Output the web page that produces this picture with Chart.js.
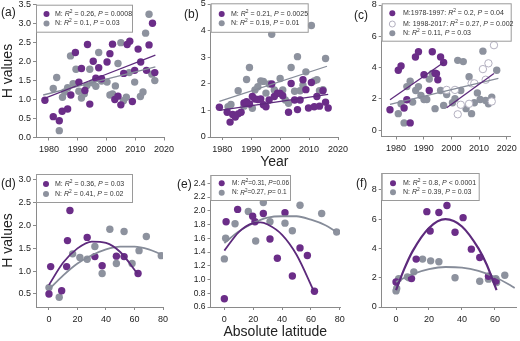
<!DOCTYPE html>
<html lang="en">
<head>
  <meta charset="UTF-8" />
  <title>H values by year and latitude</title>
  <script src="https://cdn.jsdelivr.net/npm/chart.js"></script>
  <style>
    body { margin: 0; background: #fff; }
    #wrap { position: relative; width: 520px; height: 341px; }
    #wrap canvas { position: absolute; left: 0; top: 0; }
  </style>
</head>
<body>
<div id="wrap">
  <canvas id="pa" width="520" height="341"></canvas>
  <canvas id="pb" width="520" height="341"></canvas>
  <canvas id="pc" width="520" height="341"></canvas>
  <canvas id="pd" width="520" height="341"></canvas>
  <canvas id="pe" width="520" height="341"></canvas>
  <canvas id="pf" width="520" height="341"></canvas>
</div>

<script>
  // ---- data ----
  const yearTicks = [1980, 1990, 2000, 2010, 2020];
  const latTicks = [0, 20, 40, 60, 80];
  const latTicksF = [0, 20, 40, 60];

  // (a)
  const aYearM = [1978.6, 1981.5, 1983.6, 1984.6, 1986.5, 1987.6, 1989.2, 1990.4, 1991.3, 1992.5, 1993.4, 1994.2, 1995.4, 1996.3, 1997.3, 1998.3, 2000.2, 2001.2, 2002.1, 2002.9, 2004.0, 2005.0, 2006.0, 2007.2, 2008.1, 2009.0, 2009.8, 2011.0, 2011.9, 2013.9, 2014.8, 2016.0, 2016.8];
  const aValM = [0.98, 0.55, 0.44, 0.69, 0.75, 1.12, 2.24, 1.46, 1.82, 1.24, 2.45, 0.88, 2.01, 1.56, 1.84, 1.55, 1.99, 2.21, 2.46, 1.0, 1.09, 0.86, 1.69, 2.45, 2.54, 0.95, 1.77, 2.33, 1.99, 1.77, 2.44, 3.01, 1.71];
  const aYearN = [1981.5, 1982.7, 1983.6, 1984.7, 1985.5, 1986.5, 1987.5, 1988.4, 1989.4, 1990.4, 1991.3, 1992.3, 1993.2, 1994.2, 1995.1, 1996.3, 1997.3, 1998.3, 2000.2, 2001.2, 2002.1, 2003.1, 2004.0, 2005.0, 2005.9, 2006.9, 2007.9, 2009.8, 2011.8, 2012.7, 2013.6, 2014.8, 2015.8, 2016.8];
  const aValN = [1.29, 1.58, 0.18, 1.06, 1.2, 1.31, 2.15, 1.42, 1.8, 1.22, 1.04, 1.15, 1.37, 1.8, 1.44, 1.35, 2.24, 1.49, 1.46, 1.12, 1.15, 1.36, 1.95, 2.5, 0.97, 1.06, 1.71, 1.46, 1.08, 1.2, 2.75, 3.25, 1.67, 1.5];
  const aFitX = [1978, 2017];
  const aFitM = [1.02, 2.17];
  const aFitN = [1.12, 1.86];

  // (b)
  const bYearM = [1979, 1981.7, 1982.7, 1983.6, 1984.5, 1985.5, 1986.5, 1987.5, 1988.4, 1989.4, 1990.4, 1991.3, 1992.3, 1993.3, 1994.2, 1995.1, 1996.2, 1997.1, 1998, 1999.1, 2000, 2000.9, 2002.9, 2003.8, 2005, 2006, 2006.9, 2007.9, 2008.9, 2009.8, 2010.8, 2011.8, 2012.7, 2013.6, 2014.8, 2015.7, 2016.6];
  const bValM = [1.12, 0.93, 0.56, 0.85, 0.75, 0.87, 0.93, 1.28, 1.33, 1.24, 1.52, 1.43, 1.41, 1.43, 1.21, 1.14, 1.39, 1.99, 1.52, 1.65, 1.64, 1.55, 0.93, 2.01, 1.39, 1.03, 1.39, 2.15, 1.78, 1.09, 2.05, 1.14, 1.52, 1.16, 1.74, 1.31, 1.09];
  const bYearN = [1982, 1983, 1985.5, 1987.5, 1988.4, 1989.4, 1990.4, 1991.3, 1992.3, 1993.3, 1994.2, 1995.1, 1996.2, 1997.1, 1998, 2000, 2000.9, 2001.8, 2002.9, 2003.8, 2005, 2006, 2006.9, 2007.9, 2008.9, 2010.8, 2011.8, 2012.7, 2013.6, 2014.8, 2015.7];
  const bValN = [1.14, 1.22, 1.74, 1.16, 2.16, 2.61, 1.08, 1.77, 1.89, 2.11, 2.09, 1.65, 1.99, 3.86, 1.77, 2.2, 1.77, 1.39, 1.27, 2.61, 1.72, 3.02, 1.74, 1.95, 2.45, 4.19, 2.11, 2.15, 1.74, 1.78, 2.95];
  const bFitMX = [1979, 2016.6];
  const bFitM = [1.0, 1.6];
  const bFitNX = [1979, 2016.2];
  const bFitN = [1.34, 2.66];

  // (c)
  const cYearM1 = [1977.8, 1980.8, 1981.8, 1982.9, 1983.9, 1985.1, 1987, 1988.1, 1990.1, 1992, 1993.1, 1994.1, 1994.6, 1995.1, 1996.1, 1997.2];
  const cValM1 = [1.3, 3.83, 4.1, 1.41, 1.94, 0.46, 4.67, 5.01, 3.54, 2.53, 5.01, 3.64, 3.6, 3.22, 4.67, 4.32];
  const cYearM2 = [1998.3, 2001.3, 2002.3, 2003.4, 2006.4, 2007.3, 2008.3, 2011.4, 2012.4, 2013.4, 2014.6, 2015.4];
  const cValM2 = [2.57, 2.57, 1.01, 1.62, 1.68, 2.99, 2.99, 3.9, 3.22, 4.27, 1.83, 5.43];
  const cYearN = [1980.8, 1981.8, 1982.9, 1983.9, 1985.1, 1986, 1987.1, 1988.1, 1989, 1990.1, 1991.1, 1992, 1993.1, 1994.1, 1996.1, 1997.2, 1998.3, 2000.4, 2001.3, 2002.3, 2003.4, 2004.3, 2005.3, 2006.4, 2007.3, 2008.3, 2009.4, 2010.4, 2011.4, 2012.4, 2013.4, 2014.6, 2016.4];
  const cValN = [1.05, 1.68, 0.46, 2.78, 3.12, 1.79, 2.53, 2.78, 2.21, 1.96, 1.96, 3.26, 3.62, 1.37, 2.53, 1.58, 2.27, 1.75, 2.0, 4.46, 2.53, 4.38, 1.37, 3.41, 1.05, 1.75, 2.38, 1.96, 5.05, 1.89, 1.68, 2.11, 3.83];
  const cFitM1X = [1977.8, 1997.2];
  const cFitM1 = [1.94, 4.32];
  const cFitM2X = [1998.3, 2015.4];
  const cFitM2 = [1.43, 3.62];
  const cFitNX = [1977.8, 2017];
  const cFitN = [1.64, 3.3];

  // (d)
  const dLatM = [0, 1.2, 8.9, 12.4, 13, 14.7, 26.8, 32.2, 37.3, 47.3, 52.7, 62.5];
  const dValM = [0.5, 1.1, 0.57, 1.1, 1.67, 2.33, 1.74, 1.32, 1.12, 1.33, 1.32, 0.95];
  const dLatN = [0, 7.2, 16.6, 21.7, 26.8, 32.2, 37.3, 42.7, 47.3, 52.7, 58.3, 63.2, 68.3, 78.8];
  const dValN = [0.64, 0.43, 1.38, 1.3, 1.26, 1.54, 0.95, 1.92, 1.17, 1.87, 1.17, 1.45, 1.76, 1.34];
  const dFitMX = [0, 10, 20, 30, 40, 50, 62];
  const dFitM = [0.7, 1.19, 1.5, 1.65, 1.62, 1.42, 0.95];
  const dFitNX = [0, 10, 20, 30, 40, 50, 60, 70, 78];
  const dFitN = [0.6, 0.91, 1.17, 1.35, 1.48, 1.54, 1.54, 1.48, 1.38];

  // (e)
  const eLatM = [0, 1.2, 9.2, 19.6, 21.2, 27, 31.6, 36.7, 42, 47.1, 52.4, 57.5, 62.4];
  const eValM = [0.72, 1.84, 2.02, 1.92, 1.84, 1.96, 1.59, 1.31, 1.97, 1.05, 1.46, 1.35, 0.83];
  const eLatN = [0, 0.9, 7.4, 16.6, 21.7, 27, 31.6, 42, 47.1, 52.4, 67.4, 77.8];
  const eValN = [1.3, 1.6, 1.81, 1.99, 1.56, 2.12, 1.84, 1.82, 1.71, 2.08, 1.96, 1.69];
  const eFitMX = [0, 10, 20, 25, 30, 40, 50, 62];
  const eFitM = [1.42, 1.69, 1.82, 1.83, 1.8, 1.65, 1.36, 0.83];
  const eFitNX = [0, 10, 20, 30, 40, 50, 60, 70, 77];
  const eFitN = [1.53, 1.7, 1.82, 1.9, 1.92, 1.92, 1.87, 1.79, 1.7];

  // (f)
  const fLatM = [0, 9.4, 12.2, 18.7, 20.7, 26, 30.9, 35.8, 40.7, 45.7, 50.8, 56.1, 60.6];
  const fValM = [1.71, 1.94, 3.27, 6.51, 5.19, 6.45, 6.93, 5.1, 6.1, 3.95, 3.38, 2.1, 1.78];
  const fLatN = [0, 0.4, 1.6, 6.9, 7.9, 10.8, 16.1, 21, 26, 35.8, 50.8, 56.1, 60.6, 61, 66];
  const fValN = [1.1, 1.26, 1.94, 2.06, 2.0, 2.4, 3.27, 3.15, 3.09, 2.0, 1.76, 1.9, 1.94, 1.67, 2.17];
  const fFitMX = [0, 5, 10, 20, 30, 40, 50, 55, 61];
  const fFitM = [1.15, 2.6, 3.8, 5.4, 6.0, 5.5, 4.0, 2.9, 1.15];
  const fFitNX = [0, 10, 20, 30, 40, 50, 60, 70, 72];
  const fFitN = [1.71, 2.24, 2.58, 2.73, 2.69, 2.47, 2.05, 1.44, 1.3];

  // legend texts (* = italic, ^ = superscript)
  const aLegend = ['M: *R*^2^ = 0.26, *P* = 0.0008', 'N: *R*^2^ = 0.1, *P* = 0.03'];
  const bLegend = ['M: *R*^2^ = 0.21, *P* = 0.0025', 'N: *R*^2^ = 0.19, *P* = 0.01'];
  const cLegend = ['M:1978-1997: *R*^2^ = 0.2, *P* = 0.04', 'M: 1998-2017: *R*^2^ = 0.27, *P* = 0.002', 'N: *R*^2^ = 0.11, *P* = 0.03'];
  const dLegend = ['M: *R*^2^ = 0.36, *P* = 0.03', 'N: *R*^2^ = 0.41, *P* = 0.02'];
  const eLegend = ['M: *R*^2^=0.31, *P*=0.06', 'N: *R*^2^=0.27, *P*= 0.1'];
  const fLegend = ['M: *R*^2^ = 0.8, *P* < 0.0001', 'N: *R*^2^ = 0.39, *P* = 0.03'];

  // ---- drawing ----
  const FONT = '"Liberation Sans", Arial, sans-serif';
  const PURPLE = '#6b2d88';
  const GREY = '#8d929e';
  const PURPLE_LINE = '#5d2a7c';
  const GREY_LINE = '#868c99';
  const OPEN_EDGE = '#b3b0c0';
  const AXIS = '#8a8a8a';

  const pts = (xs, ys) => xs.map((x, i) => ({ x, y: ys[i] }));

  function dots(xs, ys, color, open) {
    return {
      data: pts(xs, ys),
      showLine: false,
      pointRadius: 3.7,
      backgroundColor: open ? '#fff' : color,
      borderColor: open ? OPEN_EDGE : color,
      borderWidth: open ? 1 : 0
    };
  }

  function curve(xs, ys, color, w) {
    return {
      data: pts(xs, ys),
      showLine: true,
      pointRadius: 0,
      borderColor: color,
      borderWidth: w,
      cubicInterpolationMode: 'monotone'
    };
  }

  function axis(horiz, min, max, ticks, digits, fontSize, size, title) {
    return {
      type: 'linear',
      min, max,
      border: { color: AXIS, width: 1 },
      grid: { display: true, drawOnChartArea: false, drawTicks: true, tickLength: 3, color: AXIS },
      ticks: {
        color: '#222',
        font: { family: FONT, size: fontSize },
        padding: horiz ? 4 : 2,
        autoSkip: false,
        maxRotation: 0,
        callback: v => v.toFixed(digits)
      },
      afterBuildTicks: s => { s.ticks = ticks.map(v => ({ value: v })); },
      title: title
        ? { display: true, text: title, color: '#222', font: { family: FONT, size: 14 }, padding: 0 }
        : { display: false },
      afterFit: s => {
        if (horiz) s.height = size; else s.width = size;
        s.paddingLeft = s.paddingRight = s.paddingTop = s.paddingBottom = 0;
      }
    };
  }

  function richText(ctx, str, x, y, size) {
    let italic = false, sup = false;
    for (const p of str.split(/([*^])/)) {
      if (p === '*') { italic = !italic; continue; }
      if (p === '^') { sup = !sup; continue; }
      if (!p) continue;
      const fs = sup ? size * 0.7 : size;
      ctx.font = (italic ? 'italic ' : '') + fs + 'px ' + FONT;
      ctx.fillText(p, x, sup ? y - size * 0.35 : y);
      x += ctx.measureText(p).width;
    }
  }

  function decor(ctx, p) {
    ctx.save();
    ctx.fillStyle = '#222';
    ctx.textBaseline = 'middle';
    ctx.font = '12px ' + FONT;
    ctx.fillText(p.tag, p.tagAt[0], p.tagAt[1]);

    const [bx, by, bw, bh] = p.legBox;
    ctx.fillStyle = '#fff';
    ctx.fillRect(bx, by, bw, bh);
    ctx.strokeStyle = '#9a9a9a';
    ctx.lineWidth = 1;
    ctx.strokeRect(bx + 0.5, by + 0.5, bw, bh);

    p.legend.forEach((txt, i) => {
      const y = p.legRows[i];
      const kind = p.legKinds[i];
      ctx.beginPath();
      ctx.arc(p.legMarkX, y, 3, 0, Math.PI * 2);
      if (kind === 'O') {
        ctx.fillStyle = '#fff';
        ctx.fill();
        ctx.strokeStyle = OPEN_EDGE;
        ctx.stroke();
      } else {
        ctx.fillStyle = kind === 'M' ? PURPLE : GREY;
        ctx.fill();
      }
      ctx.fillStyle = '#333';
      richText(ctx, txt, p.legTextX, y, p.legSize);
    });
    ctx.restore();
  }

  function panel(id, p) {
    const [l, t, r, b] = p.area;
    new Chart(document.getElementById(id), {
      type: 'scatter',
      data: { datasets: p.datasets },
      options: {
        responsive: false,
        animation: false,
        events: [],
        layout: { padding: { left: l - p.yW, top: t, right: 520 - r, bottom: Math.max(0, 341 - b - 34) } },
        plugins: { legend: { display: false }, tooltip: { enabled: false } },
        scales: {
          x: axis(true, p.x[0], p.x[1], p.xTicks, 0, 9, 34, p.xTitle),
          y: axis(false, p.y[0], p.y[1], p.yTicks, p.yDigits, p.yFont || 9, p.yW, p.yTitle)
        }
      },
      plugins: [{ id: 'decor', afterDraw: chart => decor(chart.ctx, p) }]
    });
  }

  panel('pa', {
    area: [36, 4.7, 164, 137.5], yW: 36,
    x: [1975.5, 2020], xTicks: yearTicks,
    y: [0, 3.5], yTicks: [0, 0.5, 1, 1.5, 2, 2.5, 3, 3.5], yDigits: 1, yTitle: 'H values',
    tag: '(a)', tagAt: [1, 12.5],
    legBox: [36, 4.7, 96, 27], legRows: [14, 23.5], legMarkX: 46.5, legTextX: 55, legSize: 7,
    legend: aLegend, legKinds: ['M', 'N'],
    datasets: [
      curve(aFitX, aFitM, PURPLE_LINE, 1.3),
      curve(aFitX, aFitN, GREY_LINE, 1.3),
      dots(aYearM, aValM, PURPLE),
      dots(aYearN, aValN, GREY)
    ]
  });

  panel('pb', {
    area: [210.7, 3.3, 338, 137], yW: 36,
    x: [1976, 2020], xTicks: yearTicks, xTitle: 'Year',
    y: [0, 5], yTicks: [0, 1, 2, 3, 4, 5], yDigits: 0,
    tag: '(b)', tagAt: [184, 15],
    legBox: [210.7, 3.3, 97, 28.5], legRows: [14, 23.3], legMarkX: 221.7, legTextX: 231, legSize: 7,
    legend: bLegend, legKinds: ['M', 'N'],
    datasets: [
      curve(bFitMX, bFitM, PURPLE_LINE, 1.3),
      curve(bFitNX, bFitN, GREY_LINE, 1.3),
      dots(bYearM, bValM, PURPLE),
      dots(bYearN, bValN, GREY)
    ]
  });

  panel('pc', {
    area: [381.7, 3.3, 510, 136.5], yW: 36,
    x: [1974.8, 2021.2], xTicks: yearTicks,
    y: [-0.41, 8], yTicks: [0, 2, 4, 6, 8], yDigits: 0,
    tag: '(c)', tagAt: [354, 16],
    legBox: [381.7, 3.3, 129, 37.4], legRows: [13.3, 24, 33.3], legMarkX: 392.3, legTextX: 403, legSize: 7,
    legend: cLegend, legKinds: ['M', 'O', 'N'],
    datasets: [
      curve(cFitM1X, cFitM1, PURPLE_LINE, 1.3),
      curve(cFitM2X, cFitM2, PURPLE_LINE, 1.3),
      curve(cFitNX, cFitN, GREY_LINE, 1.3),
      dots(cYearM1, cValM1, PURPLE),
      dots(cYearM2, cValM2, PURPLE, true),
      dots(cYearN, cValN, GREY)
    ]
  });

  panel('pd', {
    area: [36, 174, 163, 307], yW: 36,
    x: [-9.1, 80], xTicks: latTicks,
    y: [0.215, 3.13], yTicks: [0.5, 1, 1.5, 2, 2.5, 3], yDigits: 1, yTitle: 'H values',
    tag: '(d)', tagAt: [1, 184],
    legBox: [36, 174, 96, 28], legRows: [184, 194], legMarkX: 46, legTextX: 55, legSize: 7,
    legend: dLegend, legKinds: ['M', 'N'],
    datasets: [
      curve(dFitMX, dFitM, PURPLE_LINE, 1.8),
      curve(dFitNX, dFitN, GREY_LINE, 1.8),
      dots(dLatM, dValM, PURPLE),
      dots(dLatN, dValN, GREY)
    ]
  });

  panel('pe', {
    area: [210.5, 175, 340, 307.5], yW: 40.5,
    x: [-9.6, 80.1], xTicks: latTicks, xTitle: 'Absolute latitude',
    y: [0.6, 2.52], yTicks: [0.6, 0.8, 1, 1.2, 1.4, 1.6, 1.8, 2, 2.2, 2.4], yDigits: 1, yFont: 8.5,
    tag: '(e)', tagAt: [177, 185],
    legBox: [210.5, 175, 79.5, 25], legRows: [183.3, 192.7], legMarkX: 221.7, legTextX: 232, legSize: 6.5,
    legend: eLegend, legKinds: ['M', 'N'],
    datasets: [
      curve(eFitMX, eFitM, PURPLE_LINE, 1.8),
      curve(eFitNX, eFitN, GREY_LINE, 1.8),
      dots(eLatM, eValM, PURPLE),
      dots(eLatN, eValN, GREY)
    ]
  });

  panel('pf', {
    area: [381.7, 173, 520, 308], yW: 36,
    x: [-8.7, 72.8], xTicks: latTicksF,
    y: [0, 9.15], yTicks: [0, 2, 4, 6, 8], yDigits: 0,
    tag: '(f)', tagAt: [356, 184],
    legBox: [381.7, 173, 97, 27], legRows: [183.3, 192.3], legMarkX: 393, legTextX: 403, legSize: 7,
    legend: fLegend, legKinds: ['M', 'N'],
    datasets: [
      curve(fFitMX, fFitM, PURPLE_LINE, 2.2),
      curve(fFitNX, fFitN, GREY_LINE, 1.8),
      dots(fLatM, fValM, PURPLE),
      dots(fLatN, fValN, GREY)
    ]
  });
</script>
</body>
</html>
